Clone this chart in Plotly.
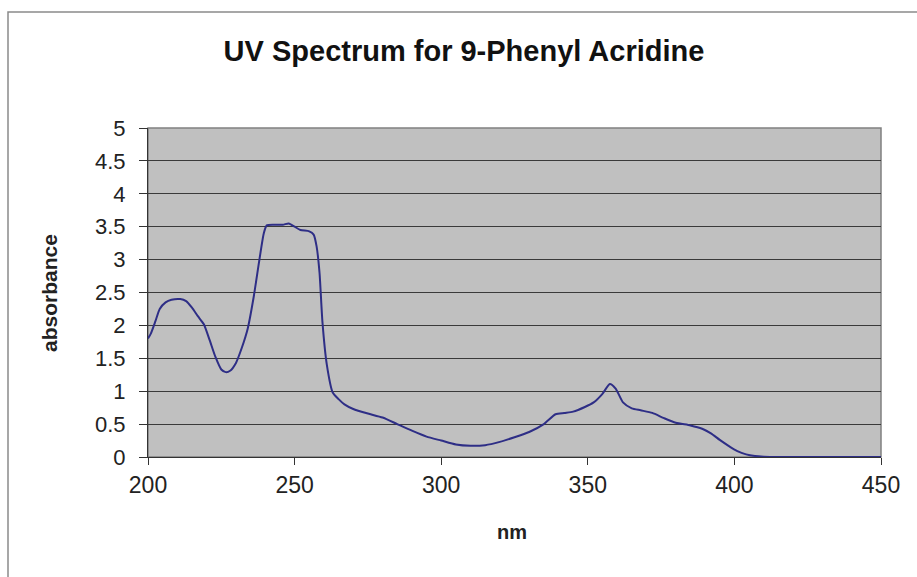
import plotly.graph_objects as go

# Wavelength (nm) and absorbance
wavelength_nm = [200, 201, 202.5, 204, 206, 208, 211, 213, 215, 217, 219, 221, 223, 225, 226.5,
                 228, 230, 232, 234, 236, 238, 239.5, 240.5, 243, 246, 248, 250, 252, 255,
                 256.5, 257.5, 258.5, 259.5, 261, 263, 265, 267, 270, 275, 280, 285, 290, 295,
                 300, 305, 310, 315, 320, 325, 330, 335, 339, 342, 345, 349, 352, 355, 357.5,
                 359.5, 362, 365, 368, 372, 376, 380, 385, 389, 392, 395, 398, 401, 404, 407,
                 410, 415, 420, 450]
absorbance = [1.80, 1.88, 2.06, 2.25, 2.35, 2.39, 2.40, 2.37, 2.27, 2.14, 2.02, 1.78, 1.52, 1.33, 1.29,
              1.31, 1.43, 1.66, 1.95, 2.42, 3.00, 3.40, 3.52, 3.53, 3.53, 3.55, 3.50, 3.45, 3.43,
              3.38, 3.20, 2.80, 2.05, 1.40, 0.98, 0.88, 0.80, 0.73, 0.66, 0.60, 0.50, 0.40, 0.31,
              0.25, 0.19, 0.17, 0.18, 0.23, 0.30, 0.38, 0.50, 0.65, 0.67, 0.69, 0.76, 0.83, 0.96, 1.11,
              1.04, 0.83, 0.74, 0.71, 0.67, 0.59, 0.52, 0.48, 0.43, 0.36, 0.26, 0.17, 0.09, 0.04, 0.015,
              0.005, 0, 0, 0]

x_ticks = [200, 250, 300, 350, 400, 450]
y_ticks = [0, 0.5, 1, 1.5, 2, 2.5, 3, 3.5, 4, 4.5, 5]
y_tick_labels = ["0", "0.5", "1", "1.5", "2", "2.5", "3", "3.5", "4", "4.5", "5"]

FONT = "Arial, Liberation Sans, sans-serif"

fig = go.Figure()
fig.add_trace(go.Scatter(
    x=wavelength_nm, y=absorbance, mode="lines",
    line=dict(color="#2E2E86", width=2, shape="spline", smoothing=0.6),
    hoverinfo="x+y", showlegend=False,
))

W, H = 917, 577
L, R, T, B = 148, 36, 128, 120
pw, ph = W - L - R, H - T - B

def px_to_paper_x(px):
    return (px - L) / pw

def px_to_paper_y(py):
    return (H - B - py) / ph

fig.update_layout(
    width=W, height=H,
    margin=dict(l=L, r=R, t=T, b=B),
    paper_bgcolor="white",
    plot_bgcolor="#C0C0C0",
    font=dict(family=FONT, color="#222222", size=22),
    title=dict(
        text="<b>UV Spectrum for 9-Phenyl Acridine</b>",
        x=px_to_paper_x(464), xref="paper", xanchor="center",
        y=1 - 51 / H, yref="container", yanchor="middle",
        font=dict(family=FONT, size=29, color="#111111"),
    ),
    xaxis=dict(
        range=[200, 450], tickvals=x_ticks, ticktext=[str(v) for v in x_ticks],
        showgrid=False, zeroline=False,
        showline=True, linecolor="#333333", linewidth=1, mirror=False,
        ticks="outside", ticklen=7, tickcolor="#333333",
        tickfont=dict(size=23, color="#222222"),
    ),
    yaxis=dict(
        range=[0, 5], tickvals=y_ticks, ticktext=y_tick_labels,
        showgrid=True, gridcolor="#3A3A3A", gridwidth=1, zeroline=False,
        showline=True, linecolor="#333333", linewidth=1, mirror=False,
        ticks="outside", ticklen=8, tickcolor="#333333", ticklabelstandoff=9,
        tickfont=dict(size=22, color="#222222"),
    ),
    annotations=[
        dict(text="<b>nm</b>", xref="paper", yref="paper",
             x=px_to_paper_x(512), y=px_to_paper_y(532),
             xanchor="center", yanchor="middle", showarrow=False,
             font=dict(family=FONT, size=20, color="#222222")),
        dict(text="<b>absorbance</b>", xref="paper", yref="paper",
             x=px_to_paper_x(49), y=px_to_paper_y(293), textangle=-90,
             xanchor="center", yanchor="middle", showarrow=False,
             font=dict(family=FONT, size=21, color="#222222")),
    ],
    shapes=[
        # outer chart frame (top & left edges visible)
        dict(type="rect", xref="paper", yref="paper",
             x0=px_to_paper_x(8), x1=px_to_paper_x(940),
             y0=px_to_paper_y(600), y1=px_to_paper_y(12),
             line=dict(color="#8A8A8A", width=1.5), fillcolor="rgba(0,0,0,0)", layer="below"),
        # plot area border right/top
        dict(type="rect", xref="paper", yref="paper", x0=0, x1=1, y0=0, y1=1,
             line=dict(color="#808080", width=1.5), fillcolor="rgba(0,0,0,0)", layer="below"),
    ],
)

fig.write_html("out.html", config={"displayModeBar": False},
               post_script="document.body.style.margin='0px';")
